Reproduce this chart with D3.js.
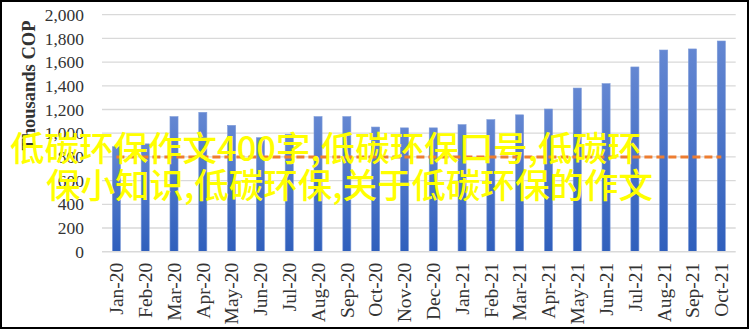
<!DOCTYPE html>
<html>
<head>
<meta charset="utf-8">
<script src="https://cdn.jsdelivr.net/npm/d3@7"></script>
<style>
  html, body { margin: 0; padding: 0; background: #fff; }
  svg { display: block; }
</style>
</head>
<body>
<svg id="chart" width="752" height="329"></svg>
<script>
const months = ["Jan-20","Feb-20","Mar-20","Apr-20","May-20","Jun-20","Jul-20","Aug-20","Sep-20","Oct-20","Nov-20","Dec-20",
                "Jan-21","Feb-21","Mar-21","Apr-21","May-21","Jun-21","Jul-21","Aug-21","Sep-21","Oct-21"];
const values = [886, 910, 1140, 1176, 1066, 962, 990, 1140, 1140, 1052, 1045, 1045,
                1072, 1114, 1155, 1204, 1381, 1418, 1559, 1702, 1711, 1778];
const averageValue = 800;
const yTicks = [0, 200, 400, 600, 800, 1000, 1200, 1400, 1600, 1800, 2000];
const yLabel = "Thousands COP";
const overlayLines = ["低碳环保作文400字,低碳环保口号,低碳环", "保小知识,低碳环保,关于低碳环保的作文"];

const svg = d3.select("#chart");
const plotLeft = 102, plotRight = 735.7, plotTop = 14.7, plotBottom = 251.7;
const serif = "Liberation Serif, Times New Roman, serif";

const x = d3.scaleBand().domain(months).range([plotLeft, plotRight]).paddingInner(0.72).paddingOuter(0.36);
const y = d3.scaleLinear().domain([0, 2000]).range([plotBottom, plotTop]);

const defs = svg.append("defs");
const grad = defs.append("linearGradient").attr("id", "barGrad").attr("x1", 0).attr("y1", 0).attr("x2", 0).attr("y2", 1);
grad.append("stop").attr("offset", "0%").attr("stop-color", "#6487d2");
grad.append("stop").attr("offset", "100%").attr("stop-color", "#2f5fbc");

// gridlines
svg.append("g").selectAll("line").data(yTicks.filter(d => d > 0)).join("line")
  .attr("x1", plotLeft).attr("x2", plotRight)
  .attr("y1", d => y(d)).attr("y2", d => y(d))
  .attr("stroke", "#d9d9d9").attr("stroke-width", 1.3);

// y axis labels
const yAxis = d3.axisLeft(y).tickValues(yTicks).tickSize(0).tickPadding(0).tickFormat(d3.format(","));
const yg = svg.append("g").attr("transform", `translate(84,0)`).call(yAxis);
yg.select(".domain").remove();
yg.selectAll("text").attr("font-family", serif)
  .attr("font-size", 16).attr("fill", "#333333").attr("dy", "0.35em")
  .attr("transform", "scale(1.09,1)");

// bars
svg.append("g").selectAll("rect").data(values).join("rect")
  .attr("x", (d, i) => x(months[i]))
  .attr("y", d => y(d))
  .attr("width", x.bandwidth())
  .attr("height", d => y(0) - y(d))
  .attr("fill", "url(#barGrad)")
  .attr("stroke", "#7c9ad8").attr("stroke-width", 0.6);

// baseline
svg.append("line").attr("x1", plotLeft).attr("x2", plotRight).attr("y1", y(0)).attr("y2", y(0))
  .attr("stroke", "#d9d9d9").attr("stroke-width", 1.6);

// x axis labels
const xAxis = d3.axisBottom(x).tickSize(0).tickPadding(0);
const xg = svg.append("g").attr("transform", `translate(0,${y(0)})`).call(xAxis);
xg.select(".domain").remove();
xg.selectAll("text")
  .attr("font-family", serif)
  .attr("font-size", 19.5).attr("fill", "#333333")
  .attr("transform", "rotate(-90)")
  .attr("text-anchor", "end")
  .attr("x", -11).attr("y", 0).attr("dy", "0.35em");

// average dashed line
const avgLine = d3.line().x(d => x(d) + x.bandwidth() / 2).y(() => y(averageValue));
svg.append("path").datum([months[0], months[months.length - 1]])
  .attr("d", avgLine)
  .attr("fill", "none").attr("stroke", "#ed7d31").attr("stroke-width", 3)
  .attr("stroke-dasharray", "8,4");

// y label
svg.append("text")
  .attr("transform", "translate(35,20.5) rotate(-90)")
  .attr("text-anchor", "end")
  .attr("font-family", serif)
  .attr("font-weight", "bold").attr("font-size", 18.5).attr("fill", "#333333")
  .text(yLabel);

// overlay watermark text
const ov = svg.append("g").attr("font-family", "Noto Sans CJK SC, sans-serif")
  .attr("font-size", 34.5).attr("font-weight", 500).attr("fill", "#ffff00");
ov.append("text").attr("x", 10).attr("y", 161).text(overlayLines[0]);
ov.append("text").attr("x", 46).attr("y", 198).text(overlayLines[1]);

// frame
svg.append("rect").attr("x", 1).attr("y", 1).attr("width", 747).attr("height", 327)
  .attr("fill", "none").attr("stroke", "#000").attr("stroke-width", 2);
</script>
</body>
</html>
